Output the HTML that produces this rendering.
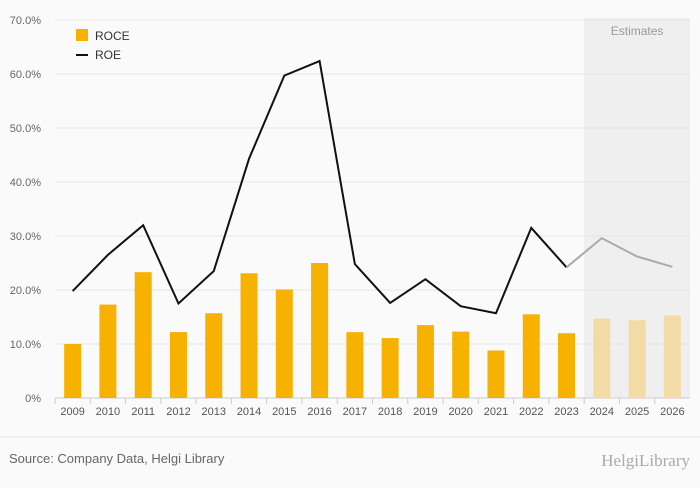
<!DOCTYPE html>
<html><head><meta charset="utf-8"><style>
body{margin:0;background:#fafafa;font-family:"Liberation Sans",sans-serif;}
#wrap{position:relative;width:700px;height:483px;background:#fafafa;}
</style></head><body>
<div id="wrap">
<svg id="chart" width="700" height="483"></svg>
</div>
<script>
const categories=["2009","2010","2011","2012","2013","2014","2015","2016","2017","2018","2019","2020","2021","2022","2023","2024","2025","2026"];
const roce=[10,17.3,23.3,12.2,15.7,23.1,20.1,25,12.2,11.1,13.5,12.3,8.8,15.5,12,14.7,14.4,15.3];
const roe=[19.8,26.5,32,17.5,23.5,44.3,59.7,62.4,24.8,17.6,22,17,15.7,31.5,24.2,29.6,26.2,24.3];
const yTicks=[0,10,20,30,40,50,60,70];
const yTickLabels=["0%","10.0%","20.0%","30.0%","40.0%","50.0%","60.0%","70.0%"];
const firstEstimate=15;
const NS="http://www.w3.org/2000/svg";
const svg=document.getElementById('chart');
const x0=55,x1=690,yb=398,yt=20;
const step=(x1-x0)/categories.length;
const X=i=>x0+step*(i+0.5);
const Y=v=>yb-(v/70)*(yb-yt);
function mk(tag,attrs,parent){const e=document.createElementNS(NS,tag);for(const k in attrs)e.setAttribute(k,attrs[k]);(parent||svg).appendChild(e);return e;}
// estimates band
let band=mk('rect',{x:x0+step*firstEstimate,y:yt-2,width:x1-(x0+step*firstEstimate),height:yb-yt+2,fill:'#efefef'});


let et=mk('text',{x:(x0+step*firstEstimate+x1)/2,y:35,'text-anchor':'middle','font-size':12,fill:'#999'});
et.textContent='Estimates';


// grid + y labels
yTicks.forEach((t,i)=>{
  let g=mk('line',{x1:x0,x2:x1,y1:Y(t),y2:Y(t),stroke:t===0?'#ccc':'#e6e6e6','stroke-width':1});
  
  
  let l=mk('text',{x:41,y:Y(t)+4,'text-anchor':'end','font-size':11,fill:'#666'});
  l.textContent=yTickLabels[i];
  
  
});
// x ticks and labels
categories.forEach((c,i)=>{
  let tk=mk('line',{x1:x0+step*i,x2:x0+step*i,y1:yb,y2:yb+6,stroke:'#ccc'});
  
  
  let l=mk('text',{x:X(i),y:415,'text-anchor':'middle','font-size':11,fill:'#555'});
  l.textContent=c;
  
  
});
// bars
roce.forEach((v,i)=>{
  let b=mk('rect',{x:X(i)-8.5,y:Y(v),width:17,height:yb-Y(v),fill:i>=firstEstimate?'#f3dba5':'#f7b100'});
  
  
});
// lines
let pa=roe.slice(0,firstEstimate).map((v,i)=>(i?'L':'M')+X(i)+','+Y(v)).join('');
let l1=mk('path',{d:pa,fill:'none',stroke:'#111','stroke-width':2,'stroke-linejoin':'miter'});


let pb=roe.map((v,i)=>i>=firstEstimate-1?(i===firstEstimate-1?'M':'L')+X(i)+','+Y(v):'').join('');
let l2=mk('path',{d:pb,fill:'none',stroke:'#aaa','stroke-width':2});


// legend
let lr=mk('rect',{x:76,y:29,width:12,height:12,fill:'#f7b100'});


let lt=mk('text',{x:95,y:40,'font-size':12,fill:'#333'});lt.textContent='ROCE';


let ll=mk('line',{x1:76,x2:88,y1:55,y2:55,stroke:'#111','stroke-width':2});


let lt2=mk('text',{x:95,y:59,'font-size':12,fill:'#333'});lt2.textContent='ROE';


// footer
let sl=mk('line',{x1:0,x2:700,y1:437,y2:437,stroke:'#e6e6e6'});


let src=mk('text',{x:9,y:463,'font-size':13,fill:'#666'});src.textContent='Source: Company Data, Helgi Library';


let brand=mk('text',{x:690,y:466,'text-anchor':'end','font-size':17,fill:'#aaa','font-family':'Liberation Serif, serif'});brand.textContent='HelgiLibrary';


</script>
</body></html>
